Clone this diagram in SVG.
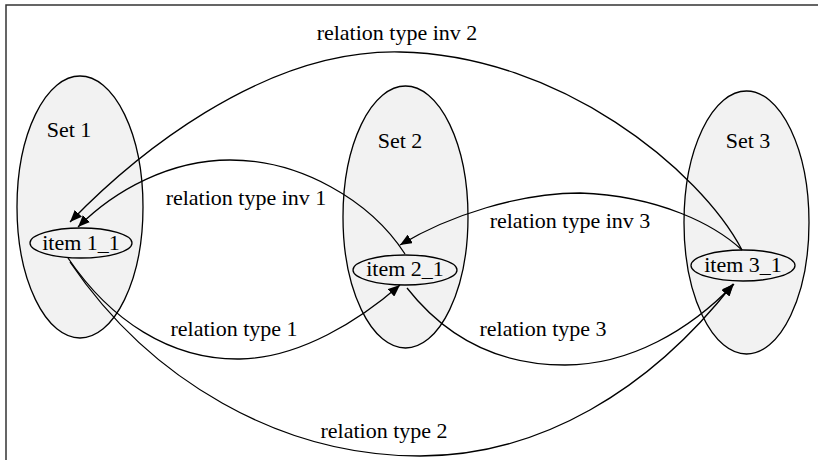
<svg xmlns="http://www.w3.org/2000/svg" width="818" height="460" viewBox="0 0 818 460">
  <style>
    .set { fill: #f2f2f2; stroke: #000; stroke-width: 1.3; }
    .item { fill: #f2f2f2; stroke: #000; stroke-width: 1.3; }
    .lbl { font-family: "Liberation Serif", "Times New Roman", serif; font-size: 22px; fill: #000; text-anchor: middle; }
    .edge { fill: none; stroke: #000; stroke-width: 1.3; marker-end: url(#arrow); }
    .frame { stroke: #333; stroke-width: 1.5; fill: none; }
  </style>
  <defs>
    <marker id="arrow" viewBox="0 0 12 10" refX="12" refY="5" markerWidth="12" markerHeight="10" markerUnits="userSpaceOnUse" orient="auto">
      <path d="M0,0 L12,5 L0,10 Z" fill="#000"/>
    </marker>
  </defs>
  <rect width="818" height="460" fill="#fff"/>
  <path class="frame" d="M6,460 L6,5 L818,5"/>

  <!-- clusters -->
  <g id="set1">
    <ellipse class="set" cx="80" cy="207" rx="63" ry="131"/>
    <text class="lbl" x="69" y="137">Set 1</text>
  </g>
  <g id="set2">
    <ellipse class="set" cx="405.5" cy="217" rx="62.5" ry="131"/>
    <text class="lbl" x="400" y="148">Set 2</text>
  </g>
  <g id="set3">
    <ellipse class="set" cx="746.5" cy="222.5" rx="62.5" ry="131.5"/>
    <text class="lbl" x="748" y="148">Set 3</text>
  </g>

  <!-- items -->
  <g id="item1_1">
    <ellipse class="item" cx="81" cy="243" rx="51" ry="15"/>
    <text class="lbl" x="81" y="250">item 1_1</text>
  </g>
  <g id="item2_1">
    <ellipse class="item" cx="405" cy="270" rx="52" ry="15"/>
    <text class="lbl" x="405" y="276">item 2_1</text>
  </g>
  <g id="item3_1">
    <ellipse class="item" cx="743" cy="265.5" rx="52" ry="15.5"/>
    <text class="lbl" x="743" y="272">item 3_1</text>
  </g>

  <!-- relations -->
  <g id="edges">
    <path class="edge" d="M742,250 C700,170 560,55 400,52 C260,49 130,160 70,222"/>
    <text class="lbl" x="397" y="40">relation type inv 2</text>

    <path class="edge" d="M405,254 C370,200 300,160 230,160 C170,160 115,190 78,227"/>
    <text class="lbl" x="246" y="205">relation type inv 1</text>

    <path class="edge" d="M742,250 C715,225 660,196 580,193 C520,193 450,215 400,245"/>
    <text class="lbl" x="570" y="228">relation type inv 3</text>

    <path class="edge" d="M68,258 C110,320 170,360 240,359 C300,358 360,320 400,285"/>
    <text class="lbl" x="234" y="336">relation type 1</text>

    <path class="edge" d="M70,262 C150,380 280,456 420,456 C540,456 650,390 733,284"/>
    <text class="lbl" x="384" y="438">relation type 2</text>

    <path class="edge" d="M407,288 C440,330 490,365 565,365 C630,365 690,330 734,284"/>
    <text class="lbl" x="543" y="336">relation type 3</text>
  </g>
</svg>
